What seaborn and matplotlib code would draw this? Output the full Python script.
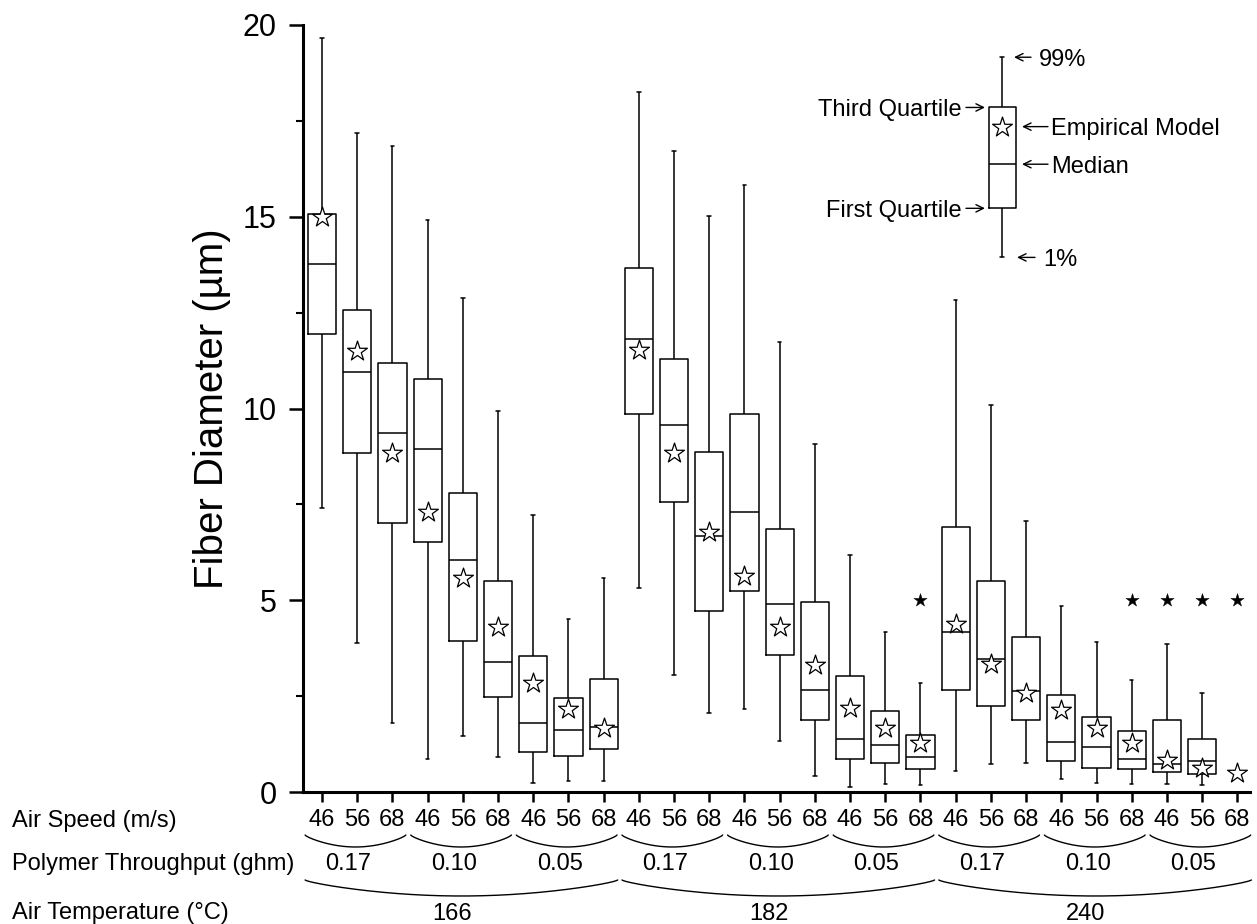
import numpy as np
import pandas as pd
import matplotlib
matplotlib.use("Agg")
import matplotlib.pyplot as plt
import matplotlib.transforms as mtransforms
from matplotlib.ticker import MultipleLocator
import seaborn as sns

# Experimental factors (one box per combination, temperature outermost)
air_temps = ["166", "182", "240"]
throughputs = ["0.17", "0.10", "0.05"]
air_speeds = ["46", "56", "68"]

# Measured fiber diameter distribution per condition (µm)
pct01 = [7.40, 3.89, 1.81, 0.87, 1.46, 0.90, 0.24, 0.29, 0.29,
         5.33, 3.06, 2.05, 2.16, 1.34, 0.43, 0.13, 0.20, 0.17,
         0.56, 0.72, 0.75, 0.33, 0.24, 0.20, 0.20, 0.17, np.nan]
quart1 = [11.94, 8.83, 7.02, 6.51, 3.93, 2.49, 1.03, 0.95, 1.11,
          9.86, 7.57, 4.72, 5.25, 3.57, 1.88, 0.87, 0.75, 0.60,
          2.67, 2.24, 1.88, 0.80, 0.63, 0.60, 0.51, 0.47, np.nan]
median = [13.78, 10.96, 9.35, 8.94, 6.05, 3.38, 1.79, 1.62, 1.70,
          11.81, 9.58, 6.68, 7.30, 4.91, 2.67, 1.38, 1.22, 0.91,
          4.16, 3.47, 2.63, 1.30, 1.18, 0.87, 0.72, 0.81, np.nan]
quart3 = [15.07, 12.57, 11.19, 10.76, 7.80, 5.49, 3.54, 2.44, 2.95,
          13.66, 11.30, 8.87, 9.86, 6.87, 4.95, 3.03, 2.12, 1.49,
          6.91, 5.49, 4.04, 2.52, 1.96, 1.58, 1.88, 1.37, np.nan]
pct99 = [19.65, 17.19, 16.84, 14.92, 12.87, 9.94, 7.22, 4.52, 5.58,
         18.24, 16.72, 15.03, 15.82, 11.74, 9.07, 6.17, 4.16, 2.83,
         12.84, 10.09, 7.07, 4.86, 3.92, 2.92, 3.86, 2.59, np.nan]

# Empirical model prediction per condition (µm)
model = [15.00, 11.51, 8.83, 7.29, 5.57, 4.31, 2.85, 2.16, 1.66,
         11.53, 8.83, 6.79, 5.62, 4.31, 3.31, 2.18, 1.68, 1.27,
         4.37, 3.35, 2.57, 2.14, 1.66, 1.27, 0.83, 0.63, 0.49]

# Conditions marked with an asterisk
flag = [np.nan] * 17 + [5.0] + [np.nan] * 5 + [5.0, 5.0, 5.0, 5.0]

# Key sample: 1%, first quartile, median, third quartile, 99%; model value
key_stats = [13.94, 15.22, 16.37, 17.85, 19.16]
key_model = [17.35]

conditions = [f"{t}|{q}|{s}" for t in air_temps for q in throughputs for s in air_speeds]

rows = []
for cond, *vals in zip(conditions, pct01, quart1, median, quart3, pct99):
    for v in vals:
        rows.append((cond, v))
dist = pd.DataFrame(rows, columns=["condition", "diameter"]).dropna()
pred = pd.DataFrame({"condition": conditions, "model": model})
marks = pd.DataFrame({"condition": conditions, "flag": flag}).dropna()

sns.set_theme(style="ticks")
plt.rcParams["font.family"] = ["Liberation Sans", "DejaVu Sans"]
plt.rcParams["axes.unicode_minus"] = False

W, H = 1257, 924
fig = plt.figure(figsize=(W / 100, H / 100), dpi=100)
fig.patch.set_facecolor("white")

ax_l, ax_r, ax_t, ax_b = 303, 1250, 25, 792
ax = fig.add_axes([ax_l / W, 1 - ax_b / H, (ax_r - ax_l) / W, (ax_b - ax_t) / H])
ax.set_facecolor("white")

box_kws = dict(whis=(0, 100), fill=False, color="black", linecolor="black",
               linewidth=1.1, capwidths=0.1)
sns.boxplot(data=dist, x="condition", y="diameter", order=conditions,
            width=0.8, ax=ax, **box_kws)
sns.stripplot(data=pred, x="condition", y="model", order=conditions,
              jitter=False, marker="*", size=15, color="white",
              edgecolor="black", linewidth=0.9, ax=ax, zorder=4)
sns.stripplot(data=marks, x="condition", y="flag", order=conditions,
              jitter=False, marker="*", size=10, color="black",
              edgecolor="black", linewidth=0.3, ax=ax, zorder=4)

n = len(conditions)
ax.set_xlim(-0.54, 26.36)
ax.set_ylim(0, 20)
ax.set_xticks(range(n))
ax.set_xticklabels(air_speeds * (len(air_temps) * len(throughputs)))
ax.set_xlabel("")
ax.set_ylabel("Fiber Diameter (µm)", fontsize=29, labelpad=8, color="black")
ax.yaxis.set_major_locator(MultipleLocator(5))
ax.yaxis.set_minor_locator(MultipleLocator(2.5))
ax.tick_params(axis="y", which="major", direction="out", length=10, width=1.8,
               labelsize=22, pad=9, colors="black")
ax.tick_params(axis="y", which="minor", direction="out", length=5, width=1.5,
               colors="black")
ax.tick_params(axis="x", which="major", direction="out", length=7, width=1.8,
               labelsize=17, pad=5, colors="black")
sns.despine(ax=ax)
for side in ("left", "bottom"):
    ax.spines[side].set_linewidth(2.2)
    ax.spines[side].set_color("black")

# Grouping rows under the axis
def fy(ypix):
    return 1 - ypix / H

def ay(ypix):
    return (ax_b - ypix) / (ax_b - ax_t)

trans = mtransforms.blended_transform_factory(ax.transData, ax.transAxes)

row_labels = ["Air Speed (m/s)", "Polymer Throughput (ghm)", "Air Temperature (°C)"]
row_base = [827, 870, 919]
for lab, yb in zip(row_labels, row_base):
    fig.text(12 / W, fy(yb), lab, fontsize=17, ha="left", va="baseline", color="black")


def brace(x0, x1, ytop, depth):
    t = np.linspace(0, 1, 200)
    shape = np.sin(np.pi * t) ** 0.75
    xs = x0 + (x1 - x0) * t
    ys = [ay(ytop + depth * s) for s in shape]
    ax.plot(xs, ys, transform=trans, color="black", lw=1.0, clip_on=False)


nq = len(air_speeds)
ng = len(throughputs) * nq
for gi, temp in enumerate(air_temps):
    g0 = gi * ng
    brace(g0 - 0.48, g0 + ng - 0.6, 880, 16)
    ax.text(g0 + (ng - 1) / 2 - 0.3, ay(920), temp, transform=trans,
            fontsize=17, ha="center", va="baseline", color="black")
    for qi, q in enumerate(throughputs):
        s0 = g0 + qi * nq
        brace(s0 - 0.48, s0 + nq - 0.62, 835, 12)
        ax.text(s0 + (nq - 1) / 2 - 0.25, ay(870), q, transform=trans,
                fontsize=17, ha="center", va="baseline", color="black")

# Key explaining the box elements
kc, kw = 1002, 60
ax_key = fig.add_axes([(kc - kw / 2) / W, 1 - ax_b / H, kw / W, (ax_b - ax_t) / H])
ax_key.patch.set_alpha(0)
sns.boxplot(y=key_stats, width=0.45, ax=ax_key, **{**box_kws, "capwidths": 0.07})
sns.stripplot(y=key_model, jitter=False, marker="*", size=15, color="white",
              edgecolor="black", linewidth=0.9, ax=ax_key, zorder=4)
ax_key.set_xlim(-0.5, 0.5)
ax_key.set_ylim(0, 20)
ax_key.axis("off")


def kx(px):
    return (px - kc) / kw


lo, q1k, medk, q3k, hi = key_stats
kfont = dict(fontsize=17, va="center_baseline", color="black", clip_on=False)
arrow = dict(arrowstyle="->,head_length=0.45,head_width=0.22", lw=1.0, color="black",
             shrinkA=0, shrinkB=0)
key_items = [
    # (label, value, text x px, alignment, arrow tail px, arrow tip px)
    ("99%", hi, 1039, "left", 1031, 1014),
    ("Third Quartile", q3k, 962, "right", 966, 985),
    ("Empirical Model", key_model[0], 1051, "left", 1048, 1022),
    ("Median", medk, 1051, "left", 1048, 1022),
    ("First Quartile", q1k, 962, "right", 966, 985),
    ("1%", lo, 1043, "left", 1035, 1017),
]
for label, val, tx, ha, tail, tip in key_items:
    ax_key.text(kx(tx), val, label, ha=ha, **kfont)
    ax_key.annotate("", xy=(kx(tip), val), xytext=(kx(tail), val),
                    arrowprops=arrow, annotation_clip=False)

fig.savefig("out.png", dpi=100, facecolor="white")
